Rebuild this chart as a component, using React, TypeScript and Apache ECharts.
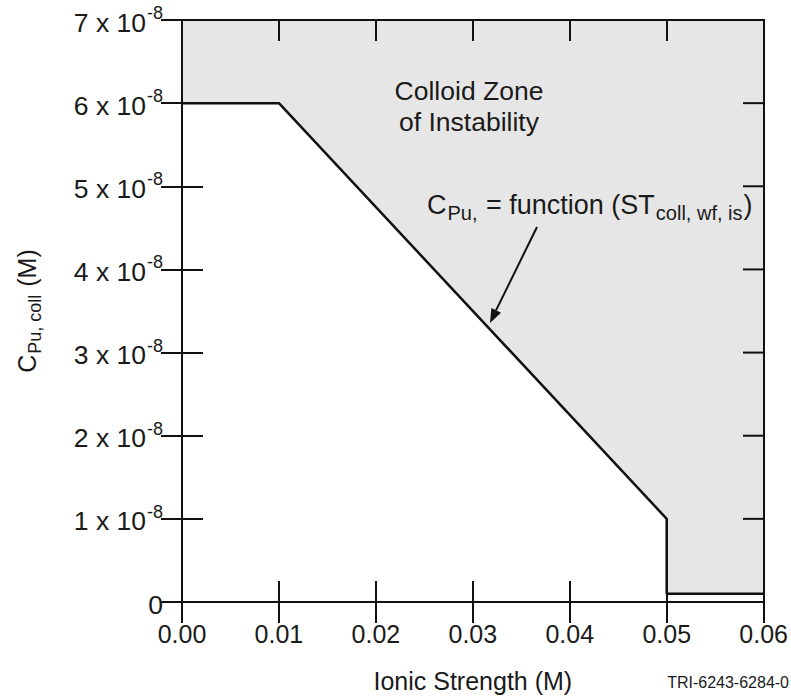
import React, { useEffect, useRef } from "react";
import * as echarts from "echarts";

// Colloid stability boundary: Pu colloid concentration vs ionic strength
const ionicStrength = [0, 0.01, 0.05, 0.05, 0.06];
const cPuColl = [6e-8, 6e-8, 1e-8, 0.1e-8, 0.1e-8];

const xTicks = [0, 0.01, 0.02, 0.03, 0.04, 0.05, 0.06];
const yTickMantissas = [0, 1, 2, 3, 4, 5, 6, 7];

const FONT = "'Liberation Sans', Arial, Helvetica, sans-serif";
const INK = "#1a1a1a";
const TICK_LEN = 21;

// Plot frame
const W = 791;
const H = 698;
const GRID = { left: 182, top: 20, right: 27, bottom: 96 };

export default function App() {
  const ref = useRef<HTMLDivElement>(null);

  useEffect(() => {
    document.body.style.margin = "0";
    if (!ref.current) return;
    const chart = echarts.init(ref.current, undefined, { renderer: "svg" });

    const data = ionicStrength.map((x, i) => [x, cPuColl[i]]);

    const yLabel = (v: number) => {
      const m = Math.round(v / 1e-8);
      if (m === 0) return "{v|0}";
      return `{v|${m} x 10}{s|-8}`;
    };

    const tickCommon = {
      show: true,
      inside: true,
      length: TICK_LEN,
      lineStyle: { color: "#111", width: 2 },
    };
    const lineCommon = { show: true, lineStyle: { color: "#111", width: 2 } };
    const xMin = xTicks[0];
    const xMax = xTicks[xTicks.length - 1];
    const yMax = yTickMantissas[yTickMantissas.length - 1] * 1e-8;

    // Top and right edges of the frame with their inward ticks
    const fx0 = GRID.left;
    const fx1 = W - GRID.right;
    const fy0 = GRID.top;
    const fy1 = H - GRID.bottom;
    const sx = (v: number) => fx0 + ((v - xMin) / (xMax - xMin)) * (fx1 - fx0);
    const sy = (v: number) => fy1 - (v / yMax) * (fy1 - fy0);
    const edge = { stroke: "#111", lineWidth: 2 };
    const frame: any[] = [
      { type: "line", z: 20, shape: { x1: fx0 - 1, y1: fy0, x2: fx1 + 1, y2: fy0 }, style: edge },
      { type: "line", z: 20, shape: { x1: fx1, y1: fy0, x2: fx1, y2: fy1 }, style: edge },
    ];
    xTicks.slice(1, -1).forEach((v) => {
      const px = sx(v);
      frame.push({ type: "line", z: 20, shape: { x1: px, y1: fy0, x2: px, y2: fy0 + TICK_LEN }, style: edge });
    });
    yTickMantissas.slice(1, -1).forEach((m) => {
      const py = sy(m * 1e-8);
      frame.push({ type: "line", z: 20, shape: { x1: fx1, y1: py, x2: fx1 - TICK_LEN, y2: py }, style: edge });
    });

    chart.setOption({
      animation: false,
      backgroundColor: "#fff",
      textStyle: { fontFamily: FONT },
      grid: { ...GRID, containLabel: false },
      xAxis: [
        {
          type: "value",
          min: xMin,
          max: xMax,
          interval: 0.01,
          position: "bottom",
          z: 5,
          axisLine: lineCommon,
          axisTick: tickCommon,
          splitLine: { show: false },
          axisLabel: {
            margin: 19,
            fontSize: 25,
            color: INK,
            fontFamily: FONT,
            formatter: (v: number) => v.toFixed(2),
          },
          name: "Ionic Strength (M)",
          nameLocation: "middle",
          nameGap: 66,
          nameTextStyle: { fontSize: 25, color: INK, fontFamily: FONT },
        },
        {
          type: "value",
          min: xMin,
          max: xMax,
          interval: 0.01,
          position: "top",
          z: 5,
          axisLine: lineCommon,
          axisTick: tickCommon,
          splitLine: { show: false },
          axisLabel: { show: false },
        },
      ],
      yAxis: [
        {
          type: "value",
          min: 0,
          max: yMax,
          interval: 1e-8,
          position: "left",
          z: 5,
          axisLine: lineCommon,
          axisTick: tickCommon,
          splitLine: { show: false },
          axisLabel: {
            margin: 19,
            color: INK,
            fontFamily: FONT,
            formatter: yLabel,
            rich: {
              v: { fontSize: 26.5, fontFamily: FONT, color: INK, lineHeight: 32, verticalAlign: "bottom" },
              s: { fontSize: 18, fontFamily: FONT, color: INK, lineHeight: 32, verticalAlign: "top", padding: [0, 0, 0, 1] },
            },
          },
          name: "{m|C}{sub|Pu, coll}{m| (M)}",
          nameLocation: "middle",
          nameGap: 138,
          nameRotate: 90,
          nameTextStyle: {
            fontFamily: FONT,
            rich: {
              m: { fontSize: 25, color: INK, fontFamily: FONT, lineHeight: 30, verticalAlign: "top" },
              sub: { fontSize: 18, color: INK, fontFamily: FONT, lineHeight: 30, verticalAlign: "bottom", padding: [0, 1, 0, 1] },
            },
          },
        },
        {
          type: "value",
          min: 0,
          max: yMax,
          interval: 1e-8,
          position: "right",
          z: 5,
          axisLine: lineCommon,
          axisTick: tickCommon,
          splitLine: { show: false },
          axisLabel: { show: false },
        },
      ],
      series: [
        {
          type: "line",
          xAxisIndex: 0,
          yAxisIndex: 0,
          data,
          symbol: "none",
          lineStyle: { color: "#111", width: 2.5 },
          areaStyle: { color: "#e6e6e6", opacity: 1, origin: "end" },
          z: 1,
        },
      ],
      graphic: [
        ...frame,
        {
          type: "text",
          x: 469,
          y: 77,
          z: 20,
          style: {
            text: "Colloid Zone",
            align: "center",
            font: `26.5px ${FONT}`,
            fill: INK,
          },
        },
        {
          type: "text",
          x: 469,
          y: 108,
          z: 20,
          style: {
            text: "of Instability",
            align: "center",
            font: `26.5px ${FONT}`,
            fill: INK,
          },
        },
        {
          type: "text",
          x: 427,
          y: 191,
          z: 20,
          style: {
            text: "{m|C}{sub|Pu,}{m| = function (ST}{sub|coll, wf, is}{m|)}",
            fill: INK,
            rich: {
              m: { fontSize: 27, fontFamily: FONT, fill: INK, lineHeight: 32, verticalAlign: "top" },
              sub: { fontSize: 20, fontFamily: FONT, fill: INK, lineHeight: 32, verticalAlign: "bottom", padding: [0, 1, 0, 1] },
            },
          },
        },
        {
          type: "line",
          z: 20,
          shape: { x1: 537, y1: 227, x2: 496, y2: 310.4 },
          style: { stroke: "#111", lineWidth: 2 },
        },
        {
          type: "polygon",
          z: 20,
          shape: { points: [[490, 323], [501, 312.8], [491.4, 308]] },
          style: { fill: "#111" },
        },
        {
          type: "text",
          right: 2,
          top: 674,
          z: 20,
          style: {
            text: "TRI-6243-6284-0",
            font: `16px ${FONT}`,
            fill: INK,
          },
        },
      ],
    });

    return () => chart.dispose();
  }, []);

  return <div ref={ref} style={{ width: W, height: H, position: "absolute", left: 0, top: 0 }} />;
}
